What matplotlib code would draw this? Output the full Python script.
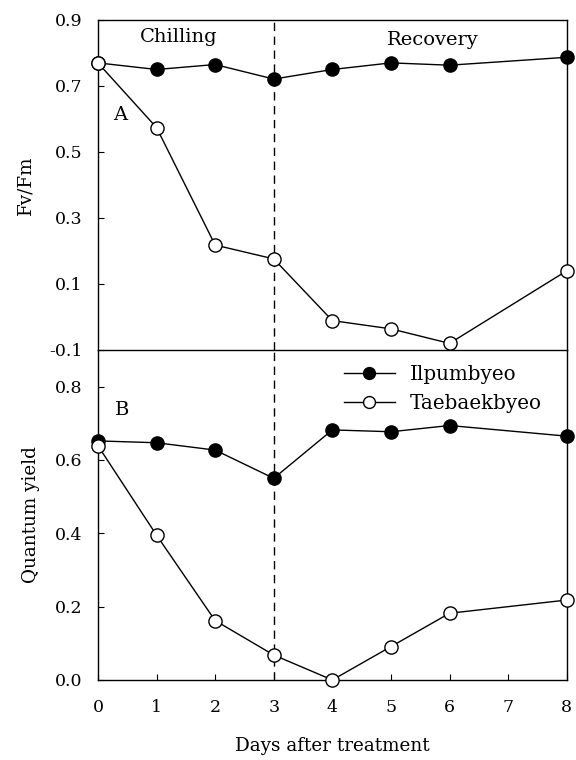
import numpy as np
import matplotlib
matplotlib.use('Agg')
import matplotlib.pyplot as plt

# ── Data ────────────────────────────────────────────────────────────────────
days = [0, 1, 2, 3, 4, 5, 6, 8]
fvfm_ilpum   = [0.770, 0.750, 0.765, 0.721, 0.750, 0.770, 0.763, 0.787]
fvfm_taebaek = [0.770, 0.574, 0.218, 0.176, -0.011, -0.036, -0.080, 0.140]
qy_ilpum     = [0.652, 0.647, 0.627, 0.550, 0.682, 0.677, 0.694, 0.665]
qy_taebaek   = [0.639, 0.395, 0.162, 0.068, 0.000, 0.091, 0.182, 0.218]
series_names = ['Ilpumbyeo', 'Taebaekbyeo']
x_ticks = [0, 1, 2, 3, 4, 5, 6, 7, 8]
top_yticks = [-0.1, 0.1, 0.3, 0.5, 0.7, 0.9]
bot_yticks = [0.0, 0.2, 0.4, 0.6, 0.8]

plt.rcParams['font.family'] = ['DejaVu Serif']
FS = 12.5        # tick labels
FS_LAB = 13.2    # axis labels
FS_NOTE = 14     # panel notes
FS_LEG = 14.3    # legend

fig = plt.figure(figsize=(5.76, 7.6), dpi=100)
ax1 = fig.add_axes([0.170, 0.5395, 0.814, 0.4342])
ax2 = fig.add_axes([0.170, 0.1053, 0.814, 0.4342])
ax2.set_facecolor('none')

mk = dict(marker='o', markersize=9.5, markeredgewidth=1.0, color='black',
          linewidth=1.0, clip_on=False, zorder=5)

# ── A: Fv/Fm ────────────────────────────────────────────────────────────────
ax1.plot(days, fvfm_ilpum, markerfacecolor='black', **mk)
ax1.plot(days, fvfm_taebaek, markerfacecolor='white', **mk)
ax1.set_xlim(0, 8)
ax1.set_ylim(-0.1, 0.9)
ax1.set_yticks(top_yticks)
ax1.set_yticklabels(['%.1f' % v for v in top_yticks], fontsize=FS)
ax1.set_xticks([])
ax1.set_ylabel('Fv/Fm', fontsize=FS_LAB, labelpad=11)
ax1.axvline(3, color='black', linestyle=(0, (6, 4)), linewidth=1.0, zorder=1)
ax1.text(1.38, 0.848, 'Chilling', fontsize=FS_NOTE, ha='center', va='center')
ax1.text(5.72, 0.840, 'Recovery', fontsize=FS_NOTE, ha='center', va='center')
ax1.text(0.375, 0.612, 'A', fontsize=FS_NOTE, ha='center', va='center')

# ── B: Quantum yield ────────────────────────────────────────────────────────
ax2.plot(days, qy_ilpum, markerfacecolor='black', label=series_names[0], **mk)
ax2.plot(days, qy_taebaek, markerfacecolor='white', label=series_names[1], **mk)
ax2.set_xlim(0, 8)
ax2.set_ylim(0, 0.9)
ax2.set_yticks(bot_yticks)
ax2.set_yticklabels(['%.1f' % v for v in bot_yticks], fontsize=FS)
ax2.set_xticks(x_ticks)
ax2.set_xticklabels([str(v) for v in x_ticks], fontsize=FS)
ax2.set_ylabel('Quantum yield', fontsize=FS_LAB, labelpad=11)
ax2.set_xlabel('Days after treatment', fontsize=FS_LAB, labelpad=15)
ax2.axvline(3, color='black', linestyle=(0, (6, 4)), linewidth=1.0, zorder=1)
ax2.text(0.41, 0.736, 'B', fontsize=FS_NOTE, ha='center', va='center')
ax2.spines['top'].set_visible(False)

ax2.legend(loc='upper left', bbox_to_anchor=(0.525, 0.955), frameon=False,
           fontsize=FS_LEG, handlelength=2.55, handletextpad=0.75, markerscale=0.9,
           labelspacing=0.5, borderpad=0, borderaxespad=0)

for ax in (ax1, ax2):
    ax.tick_params(direction='in', length=4, width=0.8)
    ax.tick_params(axis='y', pad=11)
    ax.tick_params(axis='x', pad=14)
    for s in ax.spines.values():
        s.set_linewidth(1.0)

plt.savefig('out.png', dpi=100, facecolor='white')
plt.close()
